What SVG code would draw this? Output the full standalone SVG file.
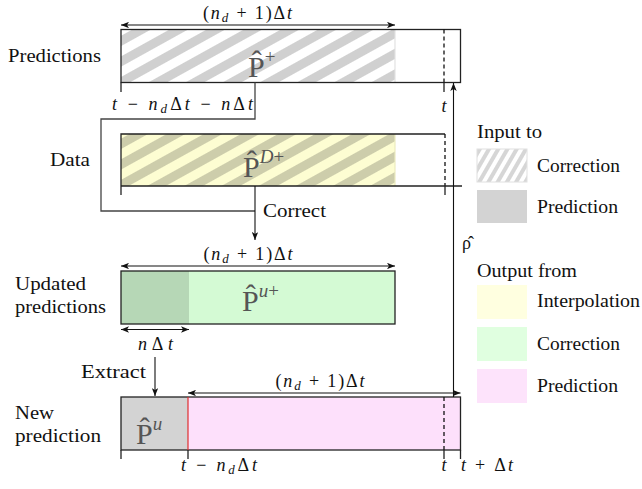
<svg xmlns="http://www.w3.org/2000/svg" width="642" height="489" viewBox="0 0 642 489" font-family="'Liberation Serif', 'DejaVu Serif', serif">
<style>
text { font-family: "Liberation Serif", "Times New Roman", "DejaVu Serif", serif; fill: #111; }
.lbl { font-size: 18px; }
.m { font-size: 18px; }
.i { font-style: italic; }
.sub { font-size: 13px; font-style: italic; }
.big { font-size: 30px; fill: #555; }
.sup { font-size: 19px; fill: #555; }
.ln { fill: none; stroke: #222; stroke-width: 1.3; }
.cn { fill: none; stroke: #444; stroke-width: 1.3; }
.dash { fill: none; stroke: #111; stroke-width: 1.3; stroke-dasharray: 4 3; }
.arr { fill: none; stroke: #111; stroke-width: 1.1; marker-end: url(#ah); marker-start: url(#ah); }
.arr1 { fill: none; stroke: #111; stroke-width: 1.1; marker-end: url(#ah); }
</style>
<defs>
<marker id="ah" viewBox="0 0 10 8" refX="10" refY="4" markerWidth="8" markerHeight="6.4" orient="auto-start-reverse" markerUnits="userSpaceOnUse">
<path d="M0,0 L10,4 L0,8 L2.5,4 z" fill="#111"/>
</marker>
<pattern id="hatchG" patternUnits="userSpaceOnUse" width="40" height="18" patternTransform="rotate(-29)">
<rect width="40" height="18" fill="#ffffff"/>
<rect width="40" height="9" fill="#d0d0d0"/>
</pattern>
<pattern id="hatchY" patternUnits="userSpaceOnUse" width="40" height="18" patternTransform="rotate(-29)">
<rect width="40" height="18" fill="#fdfdd2"/>
<rect width="40" height="9" fill="#cdcdab"/>
</pattern>
<pattern id="hatchL" patternUnits="userSpaceOnUse" width="20" height="8" patternTransform="rotate(-60)">
<rect width="20" height="8" fill="#ffffff"/>
<rect width="20" height="4" fill="#d6d6d6"/>
</pattern>
</defs>

<!-- Row labels -->
<g id="row-labels">
<text class="lbl" x="8" y="62" textLength="93" lengthAdjust="spacingAndGlyphs">Predictions</text>
<text class="lbl" x="50" y="166" textLength="40" lengthAdjust="spacingAndGlyphs">Data</text>
<text class="lbl" x="15" y="290" textLength="71" lengthAdjust="spacingAndGlyphs">Updated</text>
<text class="lbl" x="15" y="313" textLength="91" lengthAdjust="spacingAndGlyphs">predictions</text>
<text class="lbl" x="15" y="419" textLength="39" lengthAdjust="spacingAndGlyphs">New</text>
<text class="lbl" x="15" y="442" textLength="86" lengthAdjust="spacingAndGlyphs">prediction</text>
</g>

<!-- Predictions node -->
<g id="predictions">
<rect x="121" y="29.5" width="274" height="53" fill="url(#hatchG)"/>
<line x1="395" y1="29.5" x2="395" y2="82.5" stroke="#e2e2e2" stroke-width="1.2"/>
<rect x="121" y="29.5" width="339.5" height="53" class="ln"/>
<line x1="444" y1="29.5" x2="444" y2="82.5" class="dash"/>
<line x1="444" y1="82.5" x2="444" y2="92" class="ln"/>
<line x1="121" y1="82.5" x2="121" y2="92" class="ln"/>
<text class="big" x="248" y="77">P̂<tspan class="sup" dy="-14">+</tspan></text>
<line x1="121" y1="25" x2="395" y2="25" class="arr"/>
<text class="m" x="247.5" y="19" text-anchor="middle" textLength="89" lengthAdjust="spacing">(<tspan class="i">n</tspan><tspan class="sub" dy="3">d</tspan><tspan dy="-3"> + 1)Δ</tspan><tspan class="i">t</tspan></text>
<text class="m i" x="444" y="112" text-anchor="middle">t</text>
<text class="m" x="182.5" y="110" text-anchor="middle" textLength="141" lengthAdjust="spacing"><tspan class="i">t</tspan> − <tspan class="i">n</tspan><tspan class="sub" dy="3">d</tspan><tspan dy="-3">Δ</tspan><tspan class="i">t</tspan> − <tspan class="i">n</tspan>Δ<tspan class="i">t</tspan></text>
</g>

<!-- Data node -->
<g id="data">
<rect x="121" y="134" width="274" height="52" fill="url(#hatchY)"/>
<line x1="395" y1="134" x2="395" y2="186" stroke="#ecebc0" stroke-width="1.2"/>
<path d="M121,186 V134 H445" class="ln"/>
<line x1="445" y1="134" x2="445" y2="186" class="dash"/>
<line x1="121" y1="186" x2="462" y2="186" class="ln"/>
<line x1="121" y1="186" x2="121" y2="195" class="ln"/>
<line x1="445" y1="186" x2="445" y2="195" class="ln"/>
<text class="big" x="243" y="177">P̂<tspan class="sup i" dy="-14">D</tspan><tspan class="sup">+</tspan></text>
</g>

<!-- Updated predictions node -->
<g id="updated">
<rect x="121" y="271" width="274" height="53" fill="#d4fad4"/>
<rect x="121" y="271" width="68" height="53" fill="#b6d7b6"/>
<rect x="121" y="271" width="274" height="53" class="ln"/>
<text class="big" x="242" y="311">P̂<tspan class="sup i" dy="-14">u</tspan><tspan class="sup">+</tspan></text>
<line x1="121" y1="266" x2="395" y2="266" class="arr"/>
<text class="m" x="248" y="260" text-anchor="middle" textLength="89" lengthAdjust="spacing">(<tspan class="i">n</tspan><tspan class="sub" dy="3">d</tspan><tspan dy="-3"> + 1)Δ</tspan><tspan class="i">t</tspan></text>
<line x1="121" y1="329.5" x2="189" y2="329.5" class="arr"/>
<text class="m" x="155.5" y="350" text-anchor="middle" textLength="35" lengthAdjust="spacing"><tspan class="i">n</tspan>Δ<tspan class="i">t</tspan></text>
</g>

<!-- New prediction node -->
<g id="new-prediction">
<rect x="121" y="397" width="67" height="53" fill="#d3d3d3"/>
<rect x="188" y="397" width="272.5" height="53" fill="#fde0fb"/>
<rect x="121" y="397" width="339.5" height="53" class="ln"/>
<line x1="188" y1="397" x2="188" y2="450" stroke="#e03030" stroke-width="1.2"/>
<line x1="444" y1="397" x2="444" y2="450" class="dash"/>
<path d="M121,450 V459 M188,450 V459 M444,450 V459 M460.5,450 V459" class="ln"/>
<text class="big" x="136" y="444">P̂<tspan class="sup i" dy="-14">u</tspan></text>
<line x1="188" y1="393" x2="460.5" y2="393" class="arr"/>
<text class="m" x="320" y="387" text-anchor="middle" textLength="89" lengthAdjust="spacing">(<tspan class="i">n</tspan><tspan class="sub" dy="3">d</tspan><tspan dy="-3"> + 1)Δ</tspan><tspan class="i">t</tspan></text>
<text class="m" x="219" y="471" text-anchor="middle" textLength="76" lengthAdjust="spacing"><tspan class="i">t</tspan> − <tspan class="i">n</tspan><tspan class="sub" dy="3">d</tspan><tspan dy="-3">Δ</tspan><tspan class="i">t</tspan></text>
<text class="m i" x="444" y="471" text-anchor="middle">t</text>
<text class="m" x="487" y="471" text-anchor="middle" textLength="52" lengthAdjust="spacing"><tspan class="i">t</tspan> + Δ<tspan class="i">t</tspan></text>
</g>

<!-- Connectors -->
<g id="connectors">
<path d="M255,82.5 V119 H101 V211 H255" class="cn"/>
<line x1="255" y1="186" x2="255" y2="240" class="arr1"/>
<text class="lbl" x="263" y="217" textLength="63" lengthAdjust="spacingAndGlyphs">Correct</text>
<line x1="155" y1="357" x2="155" y2="396" class="arr1"/>
<text class="lbl" x="81" y="378" textLength="65" lengthAdjust="spacingAndGlyphs">Extract</text>
<line x1="453.5" y1="397" x2="453.5" y2="83" class="arr1" stroke="#444"/>
<text class="m" x="462" y="249">ρ̂</text>
</g>

<!-- Legend -->
<g id="legend-input">
<text class="lbl" x="477" y="138" textLength="65" lengthAdjust="spacingAndGlyphs">Input to</text>
<rect x="477" y="149" width="50" height="33" fill="url(#hatchL)" stroke="#e0e0e0" stroke-width="1"/>
<text class="lbl" x="537" y="172" textLength="83" lengthAdjust="spacingAndGlyphs">Correction</text>
<rect x="477" y="190" width="50" height="33" fill="#d3d3d3"/>
<text class="lbl" x="537" y="213" textLength="81" lengthAdjust="spacingAndGlyphs">Prediction</text>
</g>
<g id="legend-output">
<text class="lbl" x="477" y="277" textLength="100" lengthAdjust="spacingAndGlyphs">Output from</text>
<rect x="477" y="285" width="50" height="34" fill="#ffffe0"/>
<text class="lbl" x="537" y="307" textLength="103" lengthAdjust="spacingAndGlyphs">Interpolation</text>
<rect x="477" y="327" width="50" height="34" fill="#e0ffe0"/>
<text class="lbl" x="537" y="350" textLength="83" lengthAdjust="spacingAndGlyphs">Correction</text>
<rect x="477" y="369" width="50" height="34" fill="#fde3fb"/>
<text class="lbl" x="537" y="392" textLength="81" lengthAdjust="spacingAndGlyphs">Prediction</text>
</g>
</svg>
